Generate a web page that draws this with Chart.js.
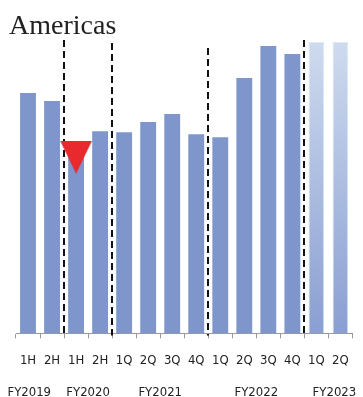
<!DOCTYPE html>
<html lang="en">
<head>
  <meta charset="UTF-8">
  <title>Americas</title>
  <script src="https://cdn.jsdelivr.net/npm/chart.js"></script>
  <style>
    html, body {
      margin: 0;
      overflow: hidden;
      background: #fff;
    }
    .wrap {
      position: relative;
      width: 363px;
      height: 397px;
    }
    .title {
      position: absolute;
      left: 9px;
      top: 11px;
      font-family: 'Liberation Serif', 'Times New Roman', serif;
      font-size: 28px;
      line-height: 28px;
      color: #222;
    }
  </style>
</head>
<body>
  <div class="wrap">
    <canvas id="chart"></canvas>
    <div class="title">Americas</div>
  </div>

  <script>
    // categories (period labels under each bar)
    const periods = ['1H', '2H', '1H', '2H', '1Q', '2Q', '3Q', '4Q', '1Q', '2Q', '3Q', '4Q', '1Q', '2Q'];
    // bar heights (relative units)
    const values = [240, 232, 185, 202, 201, 211, 219, 199, 196, 255, 287, 279, 291, 291];
    // last bars are forecast (drawn pale)
    const forecastFrom = 12;

    // fiscal year labels and where they sit (in category units)
    const years = ['FY2019', 'FY2020', 'FY2021', 'FY2022', 'FY2023'];
    const yearPos = [0.05, 2.5, 5.5, 9.5, 12.75];

    // dashed dividers: after which bar, and how high they reach
    const dividerAfter = [1, 3, 7, 11];
    const dividerTop = [293, 290, 285, 293];

    // red down marker on the FY2020 1H bar
    const marker = [null, null, 176, null, null, null, null, null, null, null, null, null, null, null];

    const BLUE = '#7f96cc';

    // triangle picture for the marker point
    const tri = document.createElement('canvas');
    tri.width = 32;
    tri.height = 33;
    const tctx = tri.getContext('2d');
    tctx.fillStyle = '#e8292e';
    tctx.beginPath();
    tctx.moveTo(0, 0);
    tctx.lineTo(32, 0);
    tctx.lineTo(16, 33);
    tctx.closePath();
    tctx.fill();

    const overlay = {
      id: 'overlay',
      beforeDatasetsDraw(chart) {
        const { ctx, chartArea } = chart;
        const x = chart.scales.x, y = chart.scales.y;
        ctx.save();
        ctx.strokeStyle = '#111';
        ctx.lineWidth = 2;
        ctx.setLineDash([7, 4]);
        dividerAfter.forEach((i, k) => {
          const px = Math.round((x.getPixelForValue(i) + x.getPixelForValue(i + 1)) / 2);
          ctx.beginPath();
          ctx.moveTo(px, y.getPixelForValue(dividerTop[k]));
          ctx.lineTo(px, chartArea.bottom + 2);
          ctx.stroke();
        });
        ctx.restore();
      },
      afterDraw(chart) {
        const { ctx, chartArea } = chart;
        const x = chart.scales.x;
        const step = x.getPixelForValue(1) - x.getPixelForValue(0);
        ctx.save();
        ctx.fillStyle = '#222';
        ctx.font = "13px 'DejaVu Sans Condensed', 'Liberation Sans Narrow', 'DejaVu Sans', sans-serif";
        ctx.textAlign = 'center';
        ctx.textBaseline = 'middle';
        years.forEach((label, k) => {
          const p = yearPos[k];
          const i = Math.floor(p);
          const px = x.getPixelForValue(i) + (p - i) * step;
          ctx.fillText(label, px, chartArea.bottom + 59);
        });
        ctx.restore();
      }
    };

    const ctx = document.getElementById('chart').getContext('2d');
    new Chart(ctx, {
      type: 'bar',
      data: {
        labels: periods,
        datasets: [{
          type: 'line',
          data: marker,
          showLine: false,
          pointStyle: tri,
          pointRadius: 16,
          order: 0
        }, {
          data: values,
          order: 1,
          barPercentage: 0.66,
          categoryPercentage: 1,
          borderWidth: (c) => c.dataIndex >= forecastFrom ? 1 : 0,
          borderColor: '#dcecf5',
          backgroundColor: (c) => {
            if (c.dataIndex < forecastFrom) return BLUE;
            const area = c.chart.chartArea;
            if (!area) return BLUE;
            const g = c.chart.ctx.createLinearGradient(0, area.top, 0, area.bottom);
            g.addColorStop(0, '#d0dcef');
            g.addColorStop(1, '#8a9fd2');
            return g;
          }
        }]
      },
      options: {
        responsive: true,
        maintainAspectRatio: false,
        animation: false,
        layout: {
          autoPadding: false,
          padding: { top: 33, left: 16, right: 7, bottom: 15 }
        },
        plugins: {
          legend: { display: false },
          tooltip: { enabled: false }
        },
        scales: {
          x: {
            grid: {
              drawOnChartArea: false,
              tickLength: 5,
              color: '#999'
            },
            border: { color: '#999' },
            ticks: {
              padding: 14,
              color: '#222',
              font: { family: "'DejaVu Sans Condensed', 'Liberation Sans Narrow', 'DejaVu Sans', sans-serif", size: 13 }
            }
          },
          y: {
            display: false,
            min: 0,
            max: 300
          }
        }
      },
      plugins: [overlay]
    });
  </script>
</body>
</html>
